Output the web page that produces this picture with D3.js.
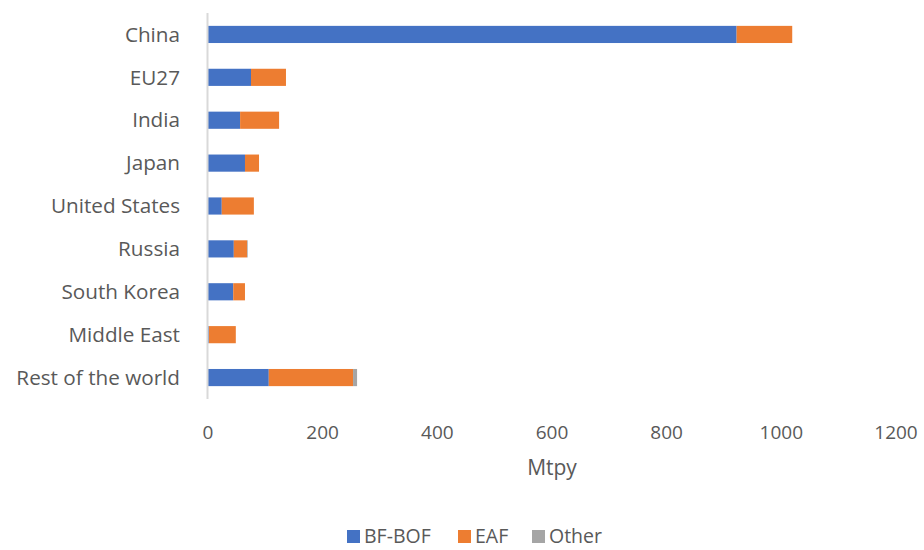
<!DOCTYPE html>
<html>
<head>
<meta charset="utf-8">
<script src="https://cdn.jsdelivr.net/npm/d3@7"></script>
<style>
  html, body { margin: 0; padding: 0; background: #fff; }
  text { font-family: "Open Sans", Lato, sans-serif; fill: #595959; }
</style>
</head>
<body>
<svg id="chart" width="924" height="550"></svg>
<script>
const categories = ["China", "EU27", "India", "Japan", "United States", "Russia", "South Korea", "Middle East", "Rest of the world"];
const seriesNames = ["BF-BOF", "EAF", "Other"];
const bfbof = [922, 75, 56, 64.5, 24, 45, 44, 1.5, 106];
const eaf   = [97, 61, 68, 24.5, 56, 23, 20.5, 47, 147];
const other = [0, 0, 0, 0, 0, 1.2, 0, 0, 7];
const colors = ["#4472C4", "#ED7D31", "#A5A5A5"];
const xTicks = [0, 200, 400, 600, 800, 1000, 1200];

const rows = categories.map((c, i) => ({ cat: c, "BF-BOF": bfbof[i], "EAF": eaf[i], "Other": other[i] }));
const stacked = d3.stack().keys(seriesNames)(rows);

const svg = d3.select("#chart");
const x = d3.scaleLinear().domain([0, 1200]).range([208, 896]);
const y = d3.scaleBand().domain(categories).range([13, 399]).paddingInner(0.6).paddingOuter(0.3);

// bars
svg.append("g").selectAll("g").data(stacked).join("g")
  .attr("fill", (d, i) => colors[i])
  .selectAll("rect").data(d => d).join("rect")
  .attr("x", d => x(d[0]))
  .attr("width", d => Math.max(0, x(d[1]) - x(d[0])))
  .attr("y", d => y(d.data.cat))
  .attr("height", y.bandwidth());

// vertical axis line
svg.append("line")
  .attr("x1", x(0) - 0.5).attr("x2", x(0) - 0.5)
  .attr("y1", 13).attr("y2", 399)
  .attr("stroke", "#d9d9d9").attr("stroke-width", 2);

// category labels
svg.append("g").selectAll("text").data(categories).join("text")
  .attr("x", 180)
  .attr("y", d => y(d) + y.bandwidth() / 2)
  .attr("dy", "0.35em")
  .attr("text-anchor", "end")
  .attr("font-size", 20.7)
  .text(d => d);

// x tick labels
svg.append("g").selectAll("text").data(xTicks).join("text")
  .attr("x", d => x(d))
  .attr("y", 432)
  .attr("dy", "0.35em")
  .attr("text-anchor", "middle")
  .attr("font-size", 19)
  .text(d => d);

// axis title
svg.append("text")
  .attr("x", 552).attr("y", 468).attr("dy", "0.35em")
  .attr("text-anchor", "middle").attr("font-size", 21)
  .text("Mtpy");

// legend
const legendX = [347, 458, 532];
const lg = svg.append("g").selectAll("g").data(seriesNames).join("g")
  .attr("transform", (d, i) => `translate(${legendX[i]},530)`);
lg.append("rect").attr("width", 13).attr("height", 13).attr("fill", (d, i) => colors[i]);
lg.append("text").attr("x", 17).attr("y", 6.5).attr("dy", "0.35em")
  .attr("font-family", "Lato, sans-serif")
  .attr("font-size", 19.5).text(d => d);
</script>
</body>
</html>
